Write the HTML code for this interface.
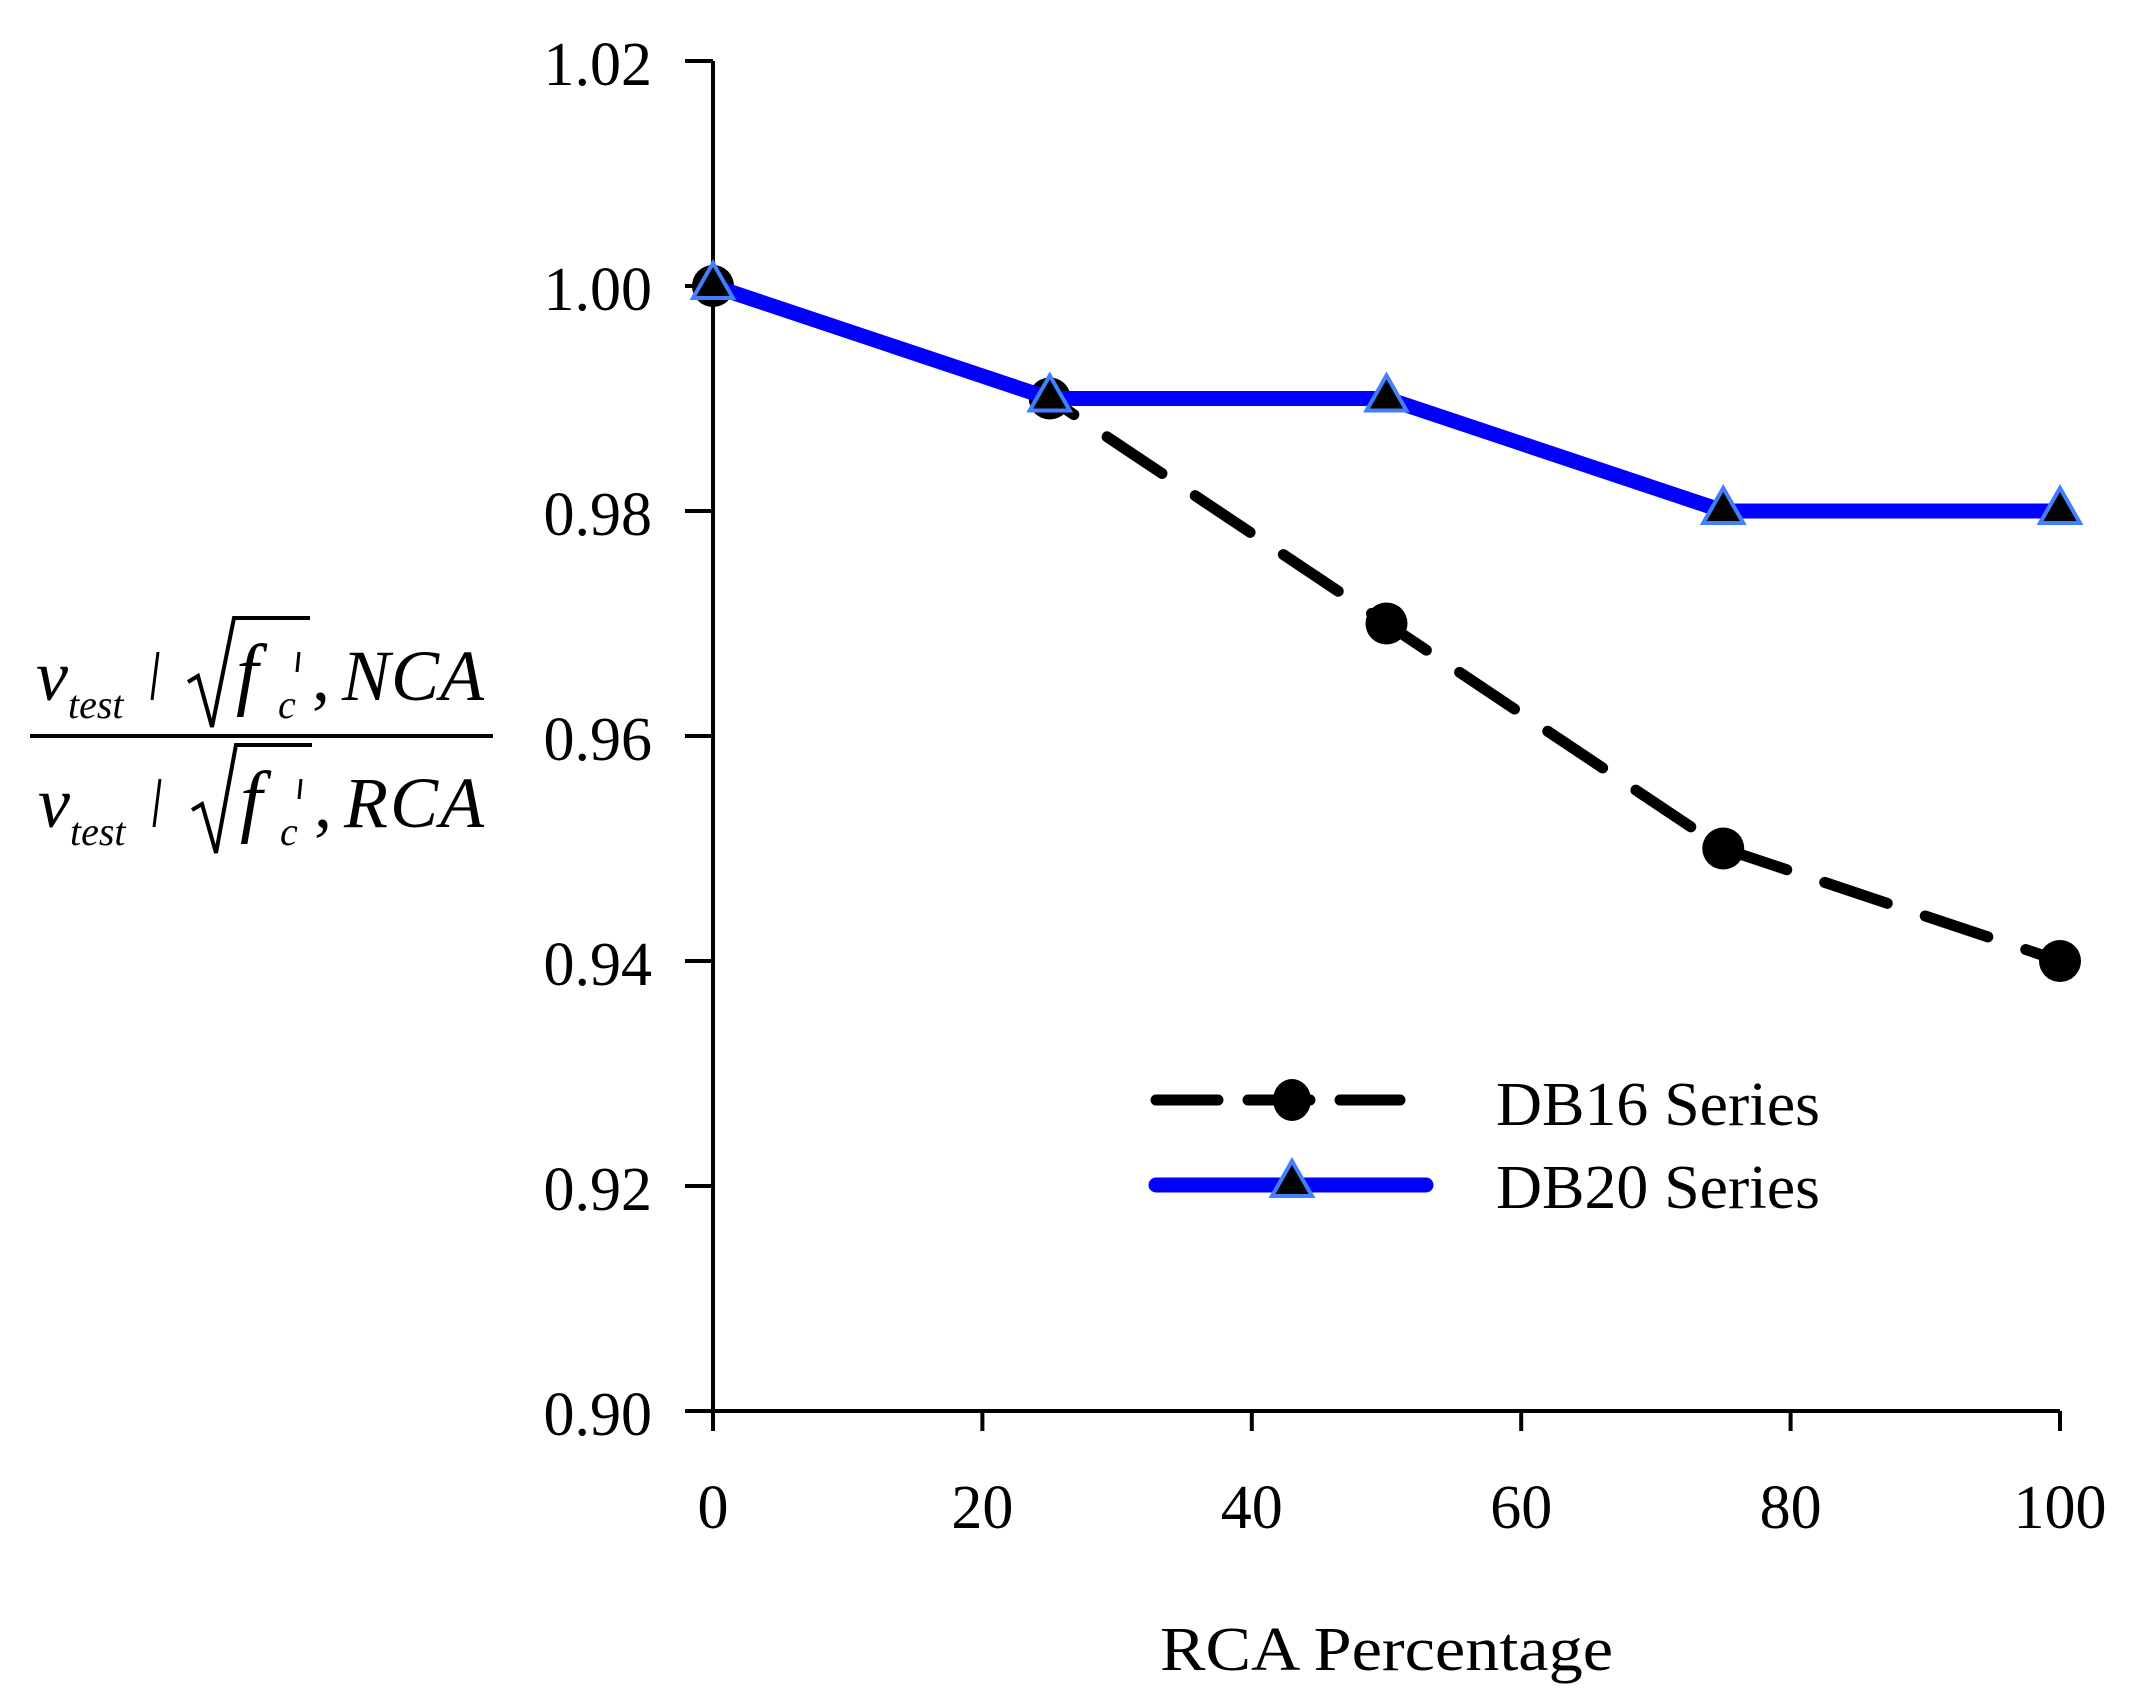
<!DOCTYPE html>
<html><head><meta charset="utf-8"><style>
html,body{margin:0;padding:0;background:#fff}
svg{display:block}
text{font-family:"Liberation Serif",serif;fill:#000}
</style></head><body>
<svg id="chart" width="2138" height="1707" viewBox="0 0 2138 1707" xmlns="http://www.w3.org/2000/svg">
<g id="axes"></g>
<g id="series"></g>
<g>
  <text x="36" y="700" font-size="72" font-style="italic">v</text>
  <text x="68" y="718" font-size="40" font-style="italic">test</text>
  <line x1="158" y1="652" x2="152" y2="700" stroke="#000" stroke-width="3"/>
  <path d="M188,682 L198,676 L212,727 L234,618 L310,618" fill="none" stroke="#000" stroke-width="4"/>
  <text x="236" y="700" font-size="80" font-style="italic">f</text>
  <text x="278" y="718" font-size="40" font-style="italic">c</text>
  <line x1="299" y1="652" x2="297" y2="672" stroke="#000" stroke-width="3"/>
  <text x="312" y="700" font-size="72">,</text>
  <text x="342" y="700" font-size="72" font-style="italic" textLength="142">NCA</text>
  <line x1="30" y1="736" x2="493" y2="736" stroke="#000" stroke-width="4"/>
  <text x="38" y="827" font-size="72" font-style="italic">v</text>
  <text x="70" y="845" font-size="40" font-style="italic">test</text>
  <line x1="160" y1="779" x2="154" y2="827" stroke="#000" stroke-width="3"/>
  <path d="M192,810 L202,804 L216,853 L236,745 L312,745" fill="none" stroke="#000" stroke-width="4"/>
  <text x="240" y="827" font-size="80" font-style="italic">f</text>
  <text x="280" y="845" font-size="40" font-style="italic">c</text>
  <line x1="301" y1="779" x2="299" y2="799" stroke="#000" stroke-width="3"/>
  <text x="314" y="827" font-size="72">,</text>
  <text x="344" y="827" font-size="72" font-style="italic" textLength="140">RCA</text>
</g>
<text x="1160" y="1670" font-size="62" textLength="453" lengthAdjust="spacingAndGlyphs">RCA Percentage</text>
<g>
  <g>
    <line x1="1156" y1="1100" x2="1400" y2="1100" stroke="#000" stroke-width="11" stroke-linecap="round" stroke-dasharray="62 30"/>
    <ellipse cx="1292" cy="1100" rx="19" ry="21" fill="#000"/>
    <text x="1496" y="1125" font-size="62" textLength="324" lengthAdjust="spacingAndGlyphs">DB16 Series</text>
  </g>
  <g>
    <line x1="1156" y1="1185" x2="1426" y2="1185" stroke="#0000ff" stroke-width="15" stroke-linecap="round"/>
    <polygon points="1292,1161 1272,1196 1312,1196" fill="#000" stroke="#4080ff" stroke-width="4"/>
    <text x="1496" y="1208" font-size="62" textLength="324" lengthAdjust="spacingAndGlyphs">DB20 Series</text>
  </g>
</g>
</svg>
<script>
const xCategories = [0, 25, 50, 75, 100];
const db16Values = [1.00, 0.99, 0.97, 0.95, 0.94];
const db20Values = [1.00, 0.99, 0.99, 0.98, 0.98];
const xTickLabels = ['0','20','40','60','80','100'];
const yTickLabels = ['0.90','0.92','0.94','0.96','0.98','1.00','1.02'];

const NS = 'http://www.w3.org/2000/svg';
const X0 = 713, X1 = 2060, Y0 = 1411, Y1 = 61;
function xs(v){ return X0 + (v - 0) / 100 * (X1 - X0); }
function ys(v){ return Y0 - (v - 0.90) / 0.12 * (Y0 - Y1); }
function mk(tag, attrs, parent){
  const e = document.createElementNS(NS, tag);
  for (const k in attrs) e.setAttribute(k, attrs[k]);
  parent.appendChild(e);
  return e;
}
const axes = document.getElementById('axes');
const series = document.getElementById('series');

let el = mk('line', {x1:X0, y1:Y1, x2:X0, y2:Y0+20, stroke:'#000', 'stroke-width':4}, axes);


el = mk('line', {x1:X0-28, y1:Y0, x2:X1, y2:Y0, stroke:'#000', 'stroke-width':4}, axes);



yTickLabels.forEach(function(t){
  const y = ys(parseFloat(t));
  const tk = mk('line', {x1:X0-28, y1:y, x2:X0, y2:y, stroke:'#000', 'stroke-width':4}, axes);
  
  
  const tx = mk('text', {x:652, y:y+24, 'font-size':62, 'text-anchor':'end'}, axes);
  tx.textContent = t;
  
  
});
xTickLabels.forEach(function(t){
  const x = xs(parseFloat(t));
  const tk = mk('line', {x1:x, y1:Y0, x2:x, y2:Y0+20, stroke:'#000', 'stroke-width':4}, axes);
  
  
  const tx = mk('text', {x:x, y:1528, 'font-size':62, 'text-anchor':'middle'}, axes);
  tx.textContent = t;
  
  
});

const p16 = xCategories.map(function(c,i){ return xs(c)+','+ys(db16Values[i]); }).join(' ');
el = mk('polyline', {points:p16, fill:'none', stroke:'#000', 'stroke-width':11, 'stroke-linecap':'round', 'stroke-dasharray':'66 40'}, series);


xCategories.forEach(function(c,i){
  const m = mk('circle', {cx:xs(c), cy:ys(db16Values[i]), r:21, fill:'#000'}, series);
  
  
});
const p20 = xCategories.map(function(c,i){ return xs(c)+','+ys(db20Values[i]); }).join(' ');
el = mk('polyline', {points:p20, fill:'none', stroke:'#0000ff', 'stroke-width':15, 'stroke-linejoin':'round'}, series);


xCategories.forEach(function(c,i){
  const x = xs(c), y = ys(db20Values[i]);
  const m = mk('polygon', {points:x+','+(y-23)+' '+(x-20)+','+(y+12)+' '+(x+20)+','+(y+12), fill:'#000', stroke:'#4080ff', 'stroke-width':4}, series);
  
  
});
</script>
</body></html>
